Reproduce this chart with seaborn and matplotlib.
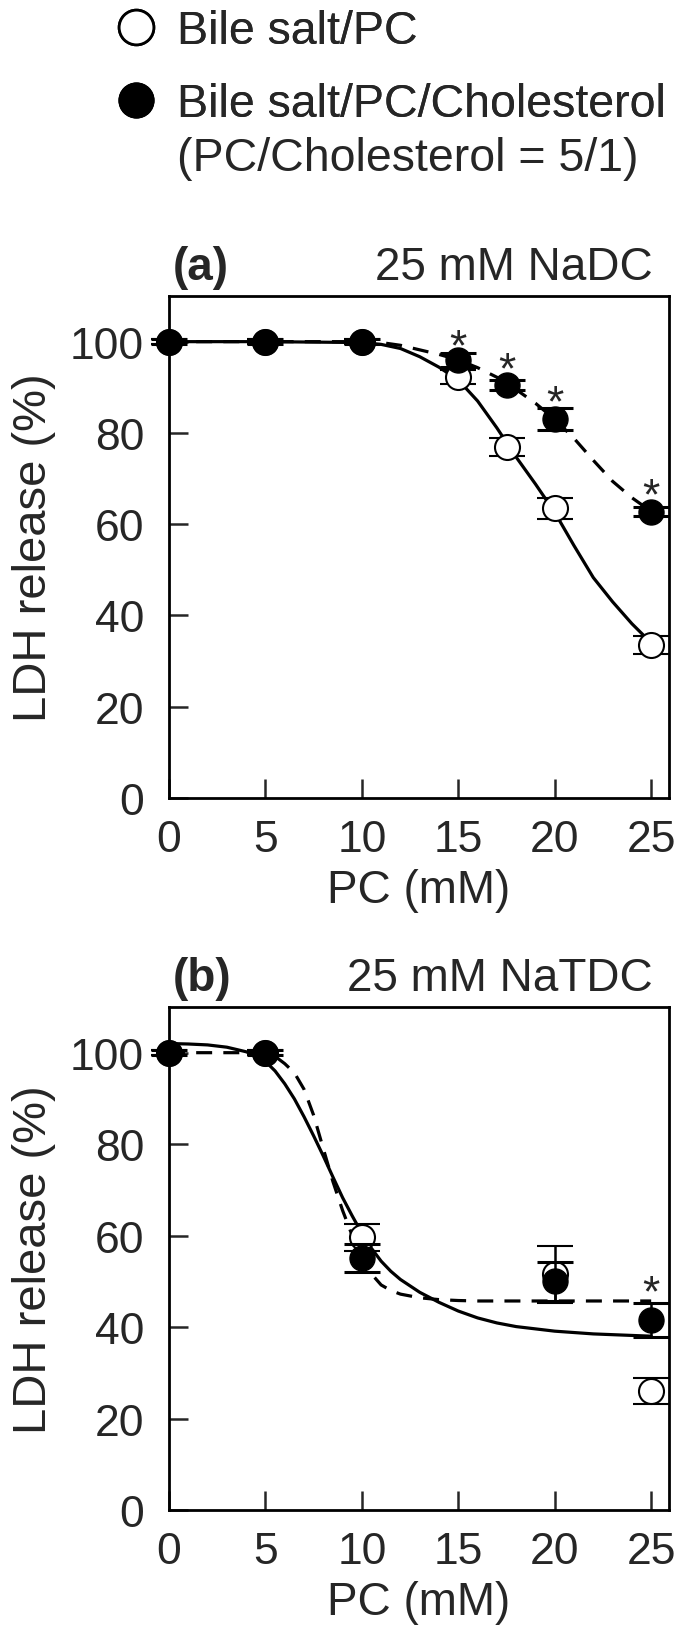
import matplotlib
matplotlib.use("Agg")
import matplotlib.pyplot as plt
import seaborn as sns
from matplotlib.lines import Line2D

# ---- data ----
pc = [0, 5, 10, 15, 17.5, 20, 25]
a_open = [100, 100, 100, 92.2, 76.9, 63.5, 33.6]
a_open_err = [0.5, 0.5, 0.5, 1.5, 1.9, 2.3, 2.0]
a_chol = [100, 100, 100, 96.0, 90.5, 83.1, 62.7]
a_chol_err = [0.5, 0.5, 0.5, 1.5, 1.0, 2.4, 1.0]
a_star_x = [15, 17.5, 20, 25]
a_star_y = [102.1, 97, 89.7, 69.3]

pc_b = [0, 5, 10, 20, 25]
b_open = [100, 100, 59.6, 51.5, 26.0]
b_open_err = [0.5, 0.5, 2.9, 6.3, 2.9]
b_chol = [100, 100, 55.1, 50.0, 41.5]
b_chol_err = [0.5, 0.5, 3.0, 4.3, 3.7]
b_star_x = [25]
b_star_y = [50.7]

# fitted curves (traced)
a_fit_x = [0, 5, 10, 11, 12, 13, 14, 15, 16, 17, 18, 19, 20, 21, 22, 23, 24, 25]
a_fit_open = [100, 100, 99.8, 99.4, 98.5, 96.7, 94.4, 91.6, 87.0, 81.1, 74.7, 68.8,
              62.6, 55.3, 48.3, 43.0, 38.2, 34.0]
a_fit_chol = [100, 100, 100, 99.8, 99.2, 98.2, 97.2, 96.0, 94.3, 92.2, 89.5, 86.5,
              83.0, 78.8, 74.0, 69.4, 65.8, 62.8]

b_fit_x = [0, 1, 2, 3, 4, 4.5, 5, 5.5, 6, 6.5, 7, 7.5, 8, 8.5, 9, 9.5, 10, 10.5,
           11, 11.5, 12, 13, 14, 15, 16, 17, 18, 20, 22, 25]
b_fit_open = [102, 101.9, 101.7, 101.2, 100.2, 99.3, 98.1, 96.0, 93.2, 89.9, 86.0,
              81.8, 77.4, 72.8, 68.3, 64.3, 60.5, 57.2, 54.4, 52.2, 50.4, 47.6,
              45.4, 43.5, 42.0, 40.9, 40.1, 39.1, 38.5, 38.0]
b_fit_chol = [100, 100, 100, 100, 100, 100, 99.9, 99.2, 97.6, 95.6, 92.0, 86.3,
              79.0, 71.8, 65.5, 60.0, 55.2, 51.6, 49.2, 48.0, 47.2, 46.4, 46.0,
              45.8, 45.7, 45.7, 45.7, 45.7, 45.7, 45.7]

sns.set_style("ticks")
plt.rcParams['font.family'] = ['Liberation Sans', 'DejaVu Sans']

fig = plt.figure(figsize=(6.75, 16.31), dpi=100)
ax_a = fig.add_axes([0.2504, 0.5101, 0.740, 0.3078])
ax_b = fig.add_axes([0.2504, 0.0736, 0.740, 0.3084])

dash = (0, (5, 3.5))


def panel(ax, x, yo, eo, yc, ec, fx, fo, fc, sx, sy, tag, title):
    sns.lineplot(x=fx, y=fo, ax=ax, color='black', lw=2.3, sort=False, zorder=2)
    sns.lineplot(x=fx, y=fc, ax=ax, color='black', lw=2.3, sort=False,
                 linestyle=dash, zorder=2)
    ax.errorbar(x, yo, yerr=eo, fmt='o', ms=18, mfc='white', mec='black', mew=1.5,
                ecolor='black', elinewidth=1.8, capsize=13, capthick=2.2,
                clip_on=False, zorder=3)
    ax.errorbar(x, yc, yerr=ec, fmt='o', ms=18, mfc='black', mec='black',
                ecolor='black', elinewidth=1.8, capsize=13, capthick=2.2,
                clip_on=False, zorder=4)
    for xs, ys in zip(sx, sy):
        ax.annotate('*', (xs, ys), xytext=(0, -19.5), textcoords='offset points',
                    ha='center', va='baseline', fontsize=32)
    ax.set_xlim(0, 25.9)
    ax.set_ylim(0, 110)
    ax.set_xticks([0, 5, 10, 15, 20, 25])
    ax.set_yticks([0, 20, 40, 60, 80, 100])
    ax.tick_params(direction='in', length=13.7, width=1.8, labelsize=32,
                   top=False, right=False)
    ax.tick_params(axis='x', pad=15)
    ax.tick_params(axis='y', pad=18)
    for s in ax.spines.values():
        s.set_linewidth(2)
        s.set_color('black')
    ax.set_xlabel('PC (mM)', fontsize=33, labelpad=6)
    ax.set_ylabel('LDH release (%)', fontsize=34, labelpad=10)
    ax.text(0.008, 1.034, tag, transform=ax.transAxes, fontsize=33,
            fontweight='bold', ha='left', va='baseline')
    ax.text(0.969, 1.034, title, transform=ax.transAxes, fontsize=33,
            ha='right', va='baseline')


panel(ax_a, pc, a_open, a_open_err, a_chol, a_chol_err, a_fit_x, a_fit_open,
      a_fit_chol, a_star_x, a_star_y, '(a)', '25 mM NaDC')
panel(ax_b, pc_b, b_open, b_open_err, b_chol, b_chol_err, b_fit_x, b_fit_open,
      b_fit_chol, b_star_x, b_star_y, '(b)', '25 mM NaTDC')

# legend: two marker entries, plus the second line of the cholesterol label
handles = [
    Line2D([], [], ls='none', marker='o', ms=25, mfc='white', mec='black', mew=2),
    Line2D([], [], ls='none', marker='o', ms=25, mfc='black', mec='black'),
]
labels = ['Bile salt/PC', 'Bile salt/PC/Cholesterol']
leg_style = dict(loc='upper left', frameon=False, fontsize=33.5, handlelength=1.0,
                 handletextpad=0.376, borderpad=0, borderaxespad=0)
leg1 = fig.legend(handles, labels, bbox_to_anchor=(113 / 675, 1 - 10 / 1631),
                  labelspacing=0.62, **leg_style)
fig.add_artist(leg1)
fig.legend([Line2D([], [], ls='none')], ['(PC/Cholesterol = 5/1)'],
           bbox_to_anchor=(113 / 675, 1 - 137 / 1631), **leg_style)

fig.savefig('out.png', dpi=100)
